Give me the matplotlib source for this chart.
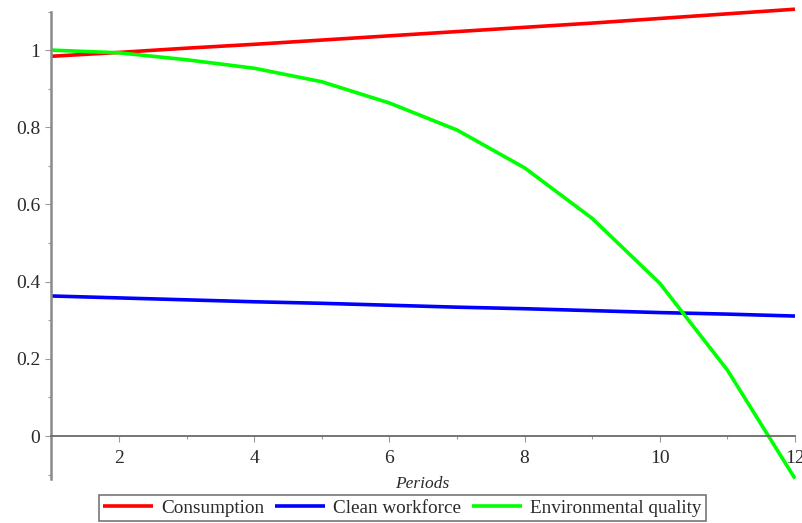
import matplotlib
matplotlib.use("Agg")
import matplotlib.pyplot as plt
from matplotlib.ticker import MultipleLocator, FuncFormatter

plt.rcParams['font.family'] = ['Liberation Serif', 'DejaVu Serif']

periods = [1, 2, 3, 4, 5, 6, 7, 8, 9, 10, 11, 12]
consumption = [0.984, 0.994, 1.005, 1.015, 1.026, 1.037, 1.048, 1.059, 1.070, 1.082, 1.094, 1.106]
clean_workforce = [0.363, 0.358, 0.353, 0.348, 0.344, 0.339, 0.334, 0.330, 0.325, 0.320, 0.316, 0.311]
environmental_quality = [1.000, 0.993, 0.975, 0.953, 0.918, 0.863, 0.793, 0.695, 0.564, 0.396, 0.171, -0.110]

series_names = ["Consumption", "Clean workforce", "Environmental quality"]
series_colors = ["#ff0000", "#0000ff", "#00ff00"]

fig = plt.figure(figsize=(8.03, 5.23), dpi=100)
ax = fig.add_axes([0.064, 0.085, 0.926, 0.893])

for vals, name, col in zip([consumption, clean_workforce, environmental_quality],
                           series_names, series_colors):
    ax.plot(periods, vals, color=col, lw=2.6, label=name,
            solid_capstyle='butt', clip_on=False)

ax.set_xlim(1, 12)
ax.set_ylim(-0.11, 1.10)

# Axes cross at (1, 0)
ax.spines['top'].set_visible(False)
ax.spines['right'].set_visible(False)
ax.spines['left'].set_position(('data', 1))
ax.spines['bottom'].set_position(('data', 0))
ax.spines['left'].set_color('#8a8a8a')
ax.spines['left'].set_linewidth(1.8)
ax.spines['bottom'].set_color('#6a6a6a')
ax.spines['bottom'].set_linewidth(1.3)

ax.xaxis.set_major_locator(MultipleLocator(2))
ax.xaxis.set_minor_locator(MultipleLocator(1))
ax.yaxis.set_major_locator(MultipleLocator(0.2))
ax.yaxis.set_minor_locator(MultipleLocator(0.1))
ax.xaxis.set_major_formatter(FuncFormatter(lambda v, p: "" if v < 1.5 else "%g" % v))
ax.yaxis.set_major_formatter(FuncFormatter(lambda v, p: "%g" % round(v, 2) if v > -0.05 else ""))

ax.tick_params(axis='both', which='major', length=4, width=0.8, colors='#9a9a9a',
               labelcolor='#2a2a2a', labelsize=14)
ax.tick_params(axis='both', which='minor', length=2.5, width=0.8, colors='#9a9a9a')
ax.tick_params(axis='x', which='major', pad=6)
ax.tick_params(axis='y', which='major', pad=4)

fig.text(0.526, 0.075, "Periods", ha='center', va='center', fontsize=12.5,
         style='italic', color='#2a2a2a')

leg = fig.legend(loc='lower center', bbox_to_anchor=(0.501, 0.0), ncol=3,
                 fontsize=13.8, frameon=True, fancybox=False, handlelength=2.6,
                 columnspacing=0.55, handletextpad=0.45, borderpad=0.22,
                 borderaxespad=0.1)
leg.get_frame().set_edgecolor('#555555')
leg.get_frame().set_linewidth(1.2)
for t in leg.get_texts():
    t.set_color('#2a2a2a')

fig.savefig("out.png", dpi=100)
